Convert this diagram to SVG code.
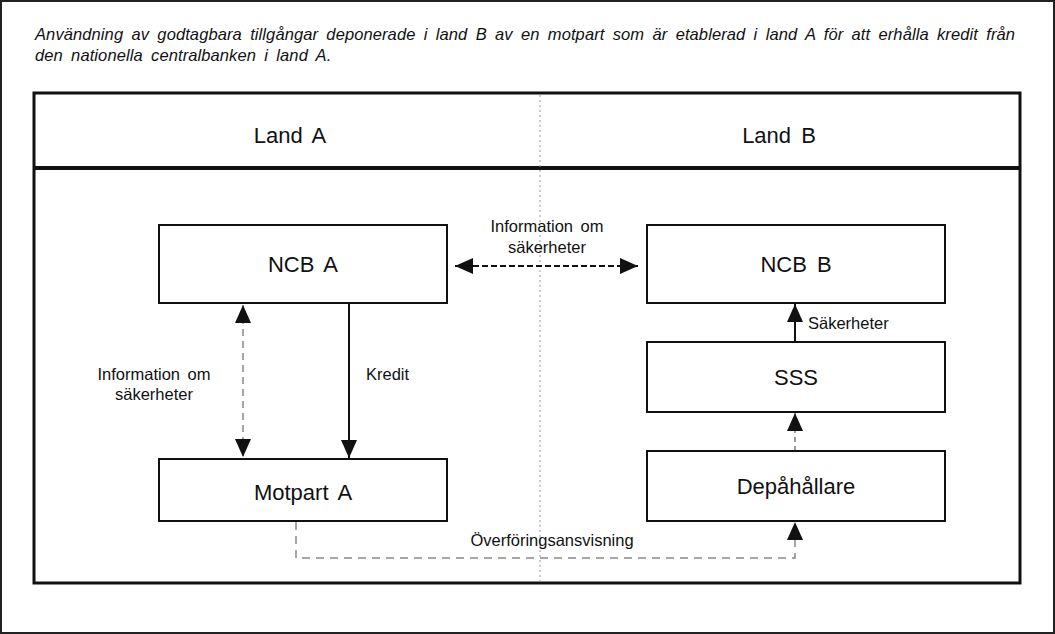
<svg xmlns="http://www.w3.org/2000/svg" width="1055" height="634" viewBox="0 0 1055 634">
<style>
.t{font-family:"Liberation Sans",Arial,sans-serif;fill:#111}
.title{font-size:16.5px;font-style:italic;word-spacing:3.6px;letter-spacing:0.1px}
.node{font-size:22px;text-anchor:middle;word-spacing:4px}
.lbl{font-size:16.5px;word-spacing:3px}
.box{fill:#fff;stroke:#111;stroke-width:2}
</style>
<defs>
<marker id="ah" viewBox="0 0 18 16" refX="18" refY="8" markerWidth="18" markerHeight="16" markerUnits="userSpaceOnUse" orient="auto-start-reverse">
<path d="M0,0 L18,8 L0,16 Z" fill="#111"/>
</marker>
</defs>
<rect x="0" y="0" width="1055" height="634" fill="#fff"/>
<rect x="1" y="1" width="1053" height="632" fill="none" stroke="#222" stroke-width="2"/>
<text class="t title" x="35" y="40">Användning av godtagbara tillgångar deponerade i land B av en motpart som är etablerad i land A för att erhålla kredit från</text>
<text class="t title" x="35" y="61">den nationella centralbanken i land A.</text>
<g id="frame">
<rect x="34" y="93" width="986" height="490" fill="none" stroke="#111" stroke-width="3"/>
<line x1="34" y1="168" x2="1020" y2="168" stroke="#111" stroke-width="4"/>
<line x1="540" y1="95" x2="540" y2="581" stroke="#999" stroke-width="1" stroke-dasharray="2,3"/>
<text class="t node" x="290" y="143">Land A</text>
<text class="t node" x="779" y="143">Land B</text>
</g>
<g id="connectors" fill="none">
<line x1="455" y1="266" x2="638" y2="266" stroke="#111" stroke-width="2" stroke-dasharray="6,3" marker-start="url(#ah)" marker-end="url(#ah)"/>
<line x1="243" y1="305" x2="243" y2="457" stroke="#888" stroke-width="1.5" stroke-dasharray="7,5" marker-start="url(#ah)" marker-end="url(#ah)"/>
<line x1="349" y1="303" x2="349" y2="458" stroke="#111" stroke-width="2" marker-end="url(#ah)"/>
<line x1="795" y1="342" x2="795" y2="304" stroke="#111" stroke-width="2" marker-end="url(#ah)"/>
<line x1="795" y1="451" x2="795" y2="413" stroke="#999" stroke-width="2" stroke-dasharray="5,4" marker-end="url(#ah)"/>
<path d="M296,522 V558 H795 V522" stroke="#888" stroke-width="1.5" stroke-dasharray="8,6" marker-end="url(#ah)"/>
<text class="t lbl" x="547" y="232" text-anchor="middle">Information om</text>
<text class="t lbl" x="547" y="253" text-anchor="middle">säkerheter</text>
<text class="t lbl" x="154" y="380" text-anchor="middle">Information om</text>
<text class="t lbl" x="154" y="400" text-anchor="middle">säkerheter</text>
<text class="t lbl" x="366" y="380">Kredit</text>
<text class="t lbl" x="808" y="329">Säkerheter</text>
<text class="t lbl" x="552" y="546" text-anchor="middle">Överföringsansvisning</text>
</g>
<g id="ncb-a"><rect class="box" x="159" y="225" width="288" height="78"/><text class="t node" x="303" y="272">NCB A</text></g>
<g id="ncb-b"><rect class="box" x="647" y="225" width="298" height="78"/><text class="t node" x="796" y="272">NCB B</text></g>
<g id="sss"><rect class="box" x="647" y="342" width="298" height="70"/><text class="t node" x="796" y="385">SSS</text></g>
<g id="depahallare"><rect class="box" x="647" y="451" width="298" height="70"/><text class="t node" x="796" y="494">Depåhållare</text></g>
<g id="motpart-a"><rect class="box" x="159" y="459" width="288" height="62"/><text class="t node" x="303" y="500">Motpart A</text></g>
</svg>
